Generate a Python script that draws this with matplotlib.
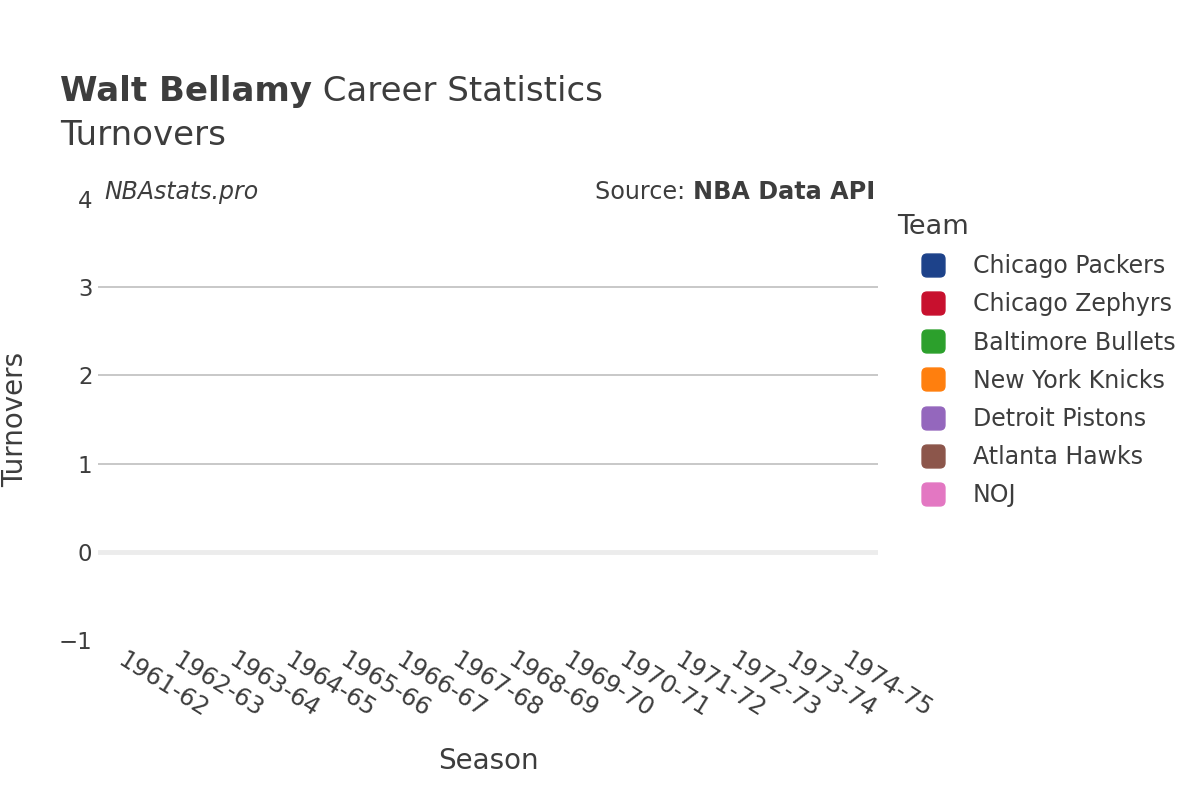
import matplotlib
matplotlib.use("Agg")
import matplotlib.pyplot as plt
from matplotlib.lines import Line2D
from matplotlib.patches import FancyBboxPatch
import numpy as np

# data
seasons = ["1961-62", "1962-63", "1963-64", "1964-65", "1965-66", "1966-67", "1967-68",
           "1968-69", "1969-70", "1970-71", "1971-72", "1972-73", "1973-74", "1974-75"]
teams = ["Chicago Packers", "Chicago Zephyrs", "Baltimore Bullets", "New York Knicks",
         "Detroit Pistons", "Atlanta Hawks", "NOJ"]
team_colors = ["#1d428a", "#c8102e", "#2ca02c", "#ff7f0e", "#9467bd", "#8c564b", "#e377c2"]
# turnovers were not recorded in these seasons -> nothing to draw
turnovers = {t: [np.nan] * len(seasons) for t in teams}
yticks = [-1, 0, 1, 2, 3, 4]

txt = "#3d3d3d"
plt.rcParams["font.family"] = ["DejaVu Sans"]

fig = plt.figure(figsize=(12, 8), dpi=100)
ax = fig.add_axes([0.0817, 0.2, 0.65, 0.55125])

x = np.arange(len(seasons))
for t, c in zip(teams, team_colors):
    ax.plot(x, turnovers[t], color=c, marker="o", label=t)

ax.set_xlim(-0.5, len(seasons) - 0.5)
ax.set_ylim(-1, 4)
ax.set_yticks(yticks)
ax.set_yticklabels(["\u22121" if v < 0 else str(v) for v in yticks])
ax.set_xticks(x)
ax.set_xticklabels(seasons, rotation=-32, ha="left", va="top", rotation_mode="anchor")
ax.tick_params(axis="y", length=0, labelsize=16.5, colors=txt, pad=4)
ax.tick_params(axis="x", length=0, labelsize=17.5, colors=txt, pad=6)
for s in ax.spines.values():
    s.set_visible(False)
for v in [1, 2, 3]:
    ax.axhline(v, color="#c8c8c8", lw=1.4, zorder=0)
ax.axhline(0, color="#ececec", lw=3.5, zorder=0)

ax.set_xlabel("Season", fontsize=20, color=txt, labelpad=18)
ax.set_ylabel("Turnovers", fontsize=20, color=txt, labelpad=21)

t1 = fig.text(0.05, 0.874, "Walt Bellamy", fontsize=24.5, fontweight="bold", color=txt,
              va="baseline")
ax.annotate(" Career Statistics", xy=(1, 0), xycoords=t1, fontsize=24.5, color=txt,
            va="bottom", ha="left", annotation_clip=False)
fig.text(0.05, 0.819, "Turnovers", fontsize=24.5, color=txt, va="baseline")

ax.text(0.008, 1.016, "NBAstats.pro", transform=ax.transAxes, fontsize=17,
        style="italic", color=txt, va="center", ha="left")
t2 = ax.text(0.9965, 1.016, "NBA Data API", transform=ax.transAxes, fontsize=17.2,
             fontweight="bold", color=txt, va="center", ha="right")
ax.annotate("Source: ", xy=(0, 0), xycoords=t2, fontsize=17.2, color=txt,
            va="bottom", ha="right", annotation_clip=False)

# rounded square marker for the legend
rbox = FancyBboxPatch((-0.5, -0.5), 1, 1, boxstyle="round,pad=0,rounding_size=0.22")
rmarker = rbox.get_path()

fig.text(0.748, 0.716, "Team", fontsize=19.5, color=txt, va="center", ha="left")
handles = [Line2D([], [], ls="none", marker=rmarker, markersize=16.5, markerfacecolor=c,
                  markeredgecolor=c, label=t) for t, c in zip(teams, team_colors)]
leg = fig.legend(handles=handles, loc="upper left",
                 bbox_to_anchor=(0.7675, 0.6822), frameon=False, fontsize=17,
                 labelspacing=0.6, handlelength=1.0, handletextpad=1.2,
                 borderaxespad=0, borderpad=0)
for tx in leg.get_texts():
    tx.set_color(txt)

fig.savefig("out.png", dpi=100)
